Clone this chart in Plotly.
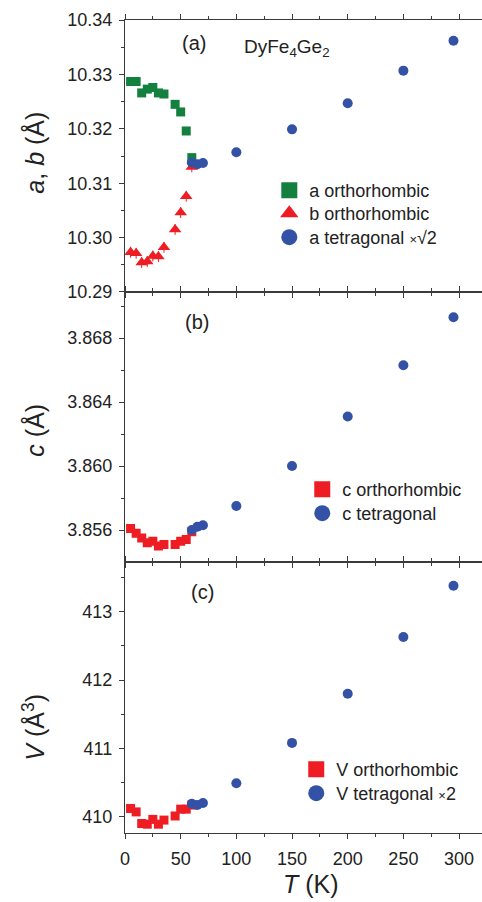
import plotly.graph_objects as go

# ---------------- data ----------------
T_orth = [5, 10, 15, 20, 25, 30, 35, 45, 50, 55, 60]
a_orth = [10.3287, 10.3287, 10.3266, 10.3273, 10.3276, 10.3266, 10.3264,
          10.3245, 10.3231, 10.3196, 10.3147]
b_orth = [10.2973, 10.2971, 10.2954, 10.2956, 10.2966, 10.2965, 10.2982,
          10.3015, 10.3046, 10.3076, 10.3130]
b_err = [0.0010] * 11

T_tet = [60, 65, 70, 100, 150, 200, 250, 295]
a_tet = [10.3138, 10.3135, 10.3137, 10.3157, 10.3199, 10.3247, 10.3307, 10.3362]

c_orth = [3.8561, 3.8558, 3.8555, 3.8552, 3.8553, 3.8550, 3.8551,
          3.8551, 3.8553, 3.8554, 3.8559]
c_tet = [3.8560, 3.8562, 3.8563, 3.8575, 3.8600, 3.8631, 3.8663, 3.8693]

V_orth = [410.12, 410.07, 409.90, 409.89, 409.96, 409.89, 409.95,
          410.01, 410.11, 410.11, 410.17]
V_tet = [410.19, 410.17, 410.20, 410.49, 411.08, 411.80, 412.63, 413.38]

# ---------------- style ----------------
GREEN = "#13803F"
RED = "#EE1D24"
BLUE = "#3352A5"
FONT = "Arial, Liberation Sans, sans-serif"
AX = "#3a3a3a"

W_FIG, H_FIG = 482, 902
L, R, TOP, BOT = 124.5, 482, 20, 833
PW, PH = R - L, BOT - TOP


def px(x):
    return (x - L) / PW


def py(y):
    return 1 - (y - TOP) / PH


fig = go.Figure()

# panel (a)
fig.add_trace(go.Scatter(x=T_orth, y=a_orth, mode="markers", xaxis="x", yaxis="y",
                         marker=dict(symbol="square", size=9, color=GREEN),
                         showlegend=False))
fig.add_trace(go.Scatter(x=T_orth, y=b_orth, mode="markers", xaxis="x", yaxis="y",
                         marker=dict(symbol="triangle-up", size=11, color=RED),
                         error_y=dict(type="data", array=b_err, width=0, thickness=1, color=RED),
                         showlegend=False))
fig.add_trace(go.Scatter(x=T_tet, y=a_tet, mode="markers", xaxis="x", yaxis="y",
                         marker=dict(symbol="circle", size=10, color=BLUE),
                         showlegend=False))
# panel (b)
fig.add_trace(go.Scatter(x=T_orth, y=c_orth, mode="markers", xaxis="x2", yaxis="y2",
                         marker=dict(symbol="square", size=9, color=RED),
                         showlegend=False))
fig.add_trace(go.Scatter(x=T_tet, y=c_tet, mode="markers", xaxis="x2", yaxis="y2",
                         marker=dict(symbol="circle", size=10, color=BLUE),
                         showlegend=False))
# panel (c)
fig.add_trace(go.Scatter(x=T_orth, y=V_orth, mode="markers", xaxis="x3", yaxis="y3",
                         marker=dict(symbol="square", size=9, color=RED),
                         showlegend=False))
fig.add_trace(go.Scatter(x=T_tet, y=V_tet, mode="markers", xaxis="x3", yaxis="y3",
                         marker=dict(symbol="circle", size=10, color=BLUE),
                         showlegend=False))

# legend entries: one legend per entry so rows can be placed exactly
# (name, symbol, colour, axes, legend-left px, legend-top px)
leg_items = [
    ("a orthorhombic", "square", GREEN, "x", "y", 269, 172),
    ("b orthorhombic", "triangle-up", RED, "x", "y", 269, 195),
    ("a tetragonal <span style='font-size:13px'>×</span>√2", "circle", BLUE, "x", "y", 269, 219),
    ("c orthorhombic", "square", RED, "x2", "y2", 302, 471),
    ("c tetragonal", "circle", BLUE, "x2", "y2", 302, 495),
    ("V orthorhombic", "square", RED, "x3", "y3", 296, 751),
    ("V tetragonal <span style='font-size:13px'>×</span>2", "circle", BLUE, "x3", "y3", 296, 775),
]
legend_layout = {}
for i, (name, sym, col, xa, ya, lx, ly) in enumerate(leg_items):
    key = "legend" if i == 0 else f"legend{i + 1}"
    fig.add_trace(go.Scatter(x=[None], y=[None], mode="markers", name=name, legend=key,
                             xaxis=xa, yaxis=ya,
                             marker=dict(symbol=sym, size=18, color=col)))
    legend_layout[key] = dict(x=px(lx), y=py(ly), xanchor="left", yanchor="top",
                              bgcolor="rgba(0,0,0,0)", borderwidth=0,
                              font=dict(family=FONT, size=18, color="#222"))

d_a = [py(292), 1]
d_b = [py(561.7), py(292)]
d_c = [0, py(561.7)]

xcommon = dict(range=[0, 320.6], showline=True, linecolor=AX, linewidth=1.2,
               mirror="ticks", ticks="outside", ticklen=5, tickcolor=AX,
               dtick=50, tick0=0, showgrid=False, zeroline=False,
               minor=dict(dtick=25, ticklen=3, ticks="outside", tickcolor=AX, showgrid=False),
               tickfont=dict(family=FONT, size=18, color="#222"))
ycommon = dict(showline=True, linecolor=AX, linewidth=1.2, ticks="outside", ticklen=5,
               tickcolor=AX, showgrid=False, zeroline=False,
               tickfont=dict(family=FONT, size=18, color="#222"), ticklabelstandoff=3)

fig.update_layout(
    width=W_FIG, height=H_FIG,
    margin=dict(l=L, r=W_FIG - R, t=TOP, b=H_FIG - BOT),
    paper_bgcolor="white", plot_bgcolor="white",
    font=dict(family=FONT, size=18, color="#222"),
    xaxis=dict(xcommon, anchor="y", showticklabels=False),
    xaxis2=dict(xcommon, anchor="y2", showticklabels=False, matches="x"),
    xaxis3=dict(xcommon, anchor="y3", showticklabels=True, ticklabelstandoff=4),
    yaxis=dict(ycommon, domain=d_a, anchor="x", range=[10.28999, 10.34001],
               dtick=0.01, tick0=10.29, tickformat=".2f",
               minor=dict(dtick=0.005, ticklen=3, ticks="outside", tickcolor=AX, showgrid=False)),
    yaxis2=dict(ycommon, domain=d_b, anchor="x2", range=[3.85402, 3.87088],
                tickvals=[3.856, 3.860, 3.864, 3.868], tickformat=".3f",
                minor=dict(dtick=0.002, tick0=3.856, ticklen=3, ticks="outside", tickcolor=AX, showgrid=False)),
    yaxis3=dict(ycommon, domain=d_c, anchor="x3", range=[409.761, 413.733],
                dtick=1, tick0=410, tickformat="d",
                minor=dict(dtick=0.5, ticklen=3, ticks="outside", tickcolor=AX, showgrid=False)),
    **legend_layout,
)

ann = [
    dict(text="(a)", x=px(194), y=py(43), size=20),
    dict(text="(b)", x=px(197), y=py(322), size=20),
    dict(text="(c)", x=px(202), y=py(592), size=20),
]
for a in ann:
    fig.add_annotation(text=a["text"], x=a["x"], y=a["y"], xref="paper", yref="paper",
                       showarrow=False, xanchor="center", yanchor="middle",
                       font=dict(family=FONT, size=a["size"], color="#222"))

fig.add_annotation(text="DyFe<sub>4</sub>Ge<sub>2</sub>", x=px(242), y=py(48),
                   xref="paper", yref="paper", showarrow=False, xanchor="left",
                   yanchor="middle", font=dict(family=FONT, size=19, color="#222"))

# axis titles
titles = [
    ("<i>a</i>, <i>b</i> (Å)", 153),
    ("<i>c</i> (Å)", 430),
    ("<i>V</i> (Å<sup>3</sup>)", 727),
]
for txt, yc in titles:
    fig.add_annotation(text=txt, x=px(33), y=py(yc), xref="paper", yref="paper",
                       showarrow=False, textangle=-90, xanchor="center", yanchor="middle",
                       font=dict(family=FONT, size=25, color="#222"))

fig.add_annotation(text="<i>T</i> (K)", x=px(311), y=py(884), xref="paper", yref="paper",
                   showarrow=False, xanchor="center", yanchor="middle",
                   font=dict(family=FONT, size=25, color="#222"))

fig.write_html("out.html")
